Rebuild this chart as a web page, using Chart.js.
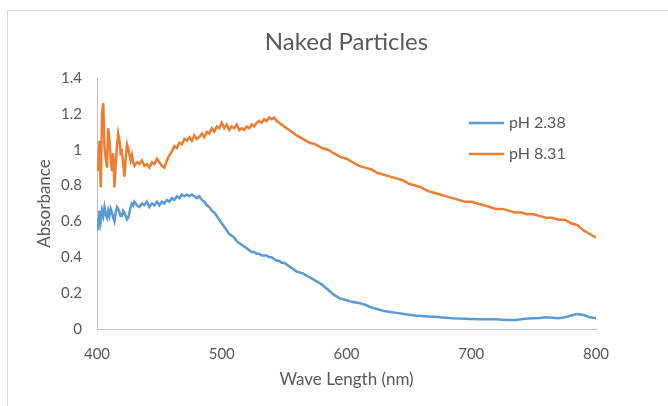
<!DOCTYPE html>
<html>
<head>
<meta charset="utf-8">
<script src="https://cdn.jsdelivr.net/npm/chart.js@4"></script>
<style>
  html, body { margin: 0; padding: 0; background: #fff; overflow: hidden; }
  #wrap { position: relative; width: 668px; height: 406px; }
  #frame { position: absolute; left: 7px; top: 10px; width: 700px; height: 450px; border: 1px solid #d9d9d9; }
  canvas { position: absolute; left: 0; top: 0; }
</style>
</head>
<body>
<div id="wrap">
  <div id="frame"></div>
  <canvas id="chart" width="668" height="406"></canvas>
</div>
<script>
// wavelength in nm: 1 nm through the noisy start, 2 nm to 560, then 5 nm
const wavelength = [
  400, 401, 402, 403, 404, 405, 406, 407, 408, 409, 410, 411, 412, 413, 414, 415,
  416, 417, 418, 419, 420, 421, 422, 423, 424, 425, 426, 427, 428, 429,
  430, 432, 434, 436, 438, 440, 442, 444, 446, 448, 450, 452, 454, 456, 458,
  460, 462, 464, 466, 468, 470, 472, 474, 476, 478, 480, 482, 484, 486, 488,
  490, 492, 494, 496, 498, 500, 502, 504, 506, 508, 510, 512, 514, 516, 518,
  520, 522, 524, 526, 528, 530, 532, 534, 536, 538, 540, 542, 544, 546, 548,
  550, 552, 554, 556, 558, 560,
  565, 570, 575, 580, 585, 590, 595, 600, 605, 610, 615, 620, 625, 630, 635, 640,
  645, 650, 655, 660, 665, 670, 675, 680, 685, 690, 695, 700, 705, 710, 715, 720,
  725, 730, 735, 740, 745, 750, 755, 760, 765, 770, 775, 780, 785, 790, 795, 800
];

const ph238 = [
  0.62, 0.55, 0.66, 0.60, 0.66, 0.63, 0.68, 0.64, 0.62, 0.66, 0.63, 0.67, 0.65, 0.62, 0.60, 0.65,
  0.68, 0.67, 0.65, 0.63, 0.63, 0.66, 0.65, 0.63, 0.61, 0.62, 0.65, 0.68, 0.70, 0.69,
  0.71, 0.69, 0.68, 0.70, 0.69, 0.71, 0.68, 0.70, 0.69, 0.71, 0.69, 0.71, 0.70, 0.72, 0.71,
  0.73, 0.72, 0.74, 0.73, 0.75, 0.74, 0.75, 0.74, 0.75, 0.74, 0.73, 0.74, 0.72, 0.71, 0.69,
  0.68, 0.66, 0.65, 0.63, 0.61, 0.59, 0.57, 0.55, 0.53, 0.52, 0.51, 0.49, 0.48, 0.47, 0.46,
  0.45, 0.44, 0.43, 0.43, 0.42, 0.42, 0.41, 0.41, 0.41, 0.40, 0.40, 0.39, 0.38, 0.38, 0.37,
  0.37, 0.36, 0.35, 0.34, 0.33, 0.32,
  0.31, 0.29, 0.27, 0.25, 0.22, 0.19, 0.17, 0.16, 0.15, 0.145, 0.135, 0.12, 0.11, 0.10, 0.095, 0.09,
  0.085, 0.08, 0.075, 0.072, 0.07, 0.068, 0.065, 0.063, 0.06, 0.058, 0.057, 0.056, 0.055, 0.055, 0.054, 0.054,
  0.052, 0.05, 0.05, 0.055, 0.058, 0.06, 0.062, 0.065, 0.063, 0.06, 0.065, 0.075, 0.083, 0.078, 0.065, 0.06
];

const ph831 = [
  0.95, 0.88, 1.05, 0.79, 1.20, 1.26, 1.02, 0.95, 0.90, 1.12, 1.05, 0.95, 0.88, 0.98, 0.79, 0.92,
  1.02, 1.09, 1.05, 0.98, 0.99, 0.92, 0.85, 0.95, 1.03, 1.01, 0.97, 0.94, 0.97, 0.93,
  0.91, 0.93, 0.92, 0.94, 0.91, 0.92, 0.90, 0.93, 0.92, 0.95, 0.93, 0.91, 0.90, 0.94, 0.97,
  0.99, 1.02, 1.01, 1.04, 1.03, 1.06, 1.05, 1.07, 1.05, 1.08, 1.06, 1.07, 1.09, 1.07, 1.10,
  1.09, 1.12, 1.10, 1.13, 1.12, 1.15, 1.12, 1.14, 1.11, 1.13, 1.12, 1.14, 1.11, 1.12, 1.11,
  1.13, 1.12, 1.14, 1.13, 1.15, 1.16, 1.15, 1.17, 1.16, 1.18, 1.17, 1.18, 1.16, 1.15, 1.14,
  1.13, 1.12, 1.11, 1.10, 1.09, 1.08,
  1.06, 1.04, 1.03, 1.01, 1.00, 0.98, 0.96, 0.95, 0.93, 0.91, 0.90, 0.89, 0.87, 0.86, 0.85, 0.84,
  0.83, 0.81, 0.80, 0.79, 0.77, 0.76, 0.75, 0.74, 0.73, 0.72, 0.71, 0.71, 0.70, 0.69, 0.68, 0.67,
  0.67, 0.66, 0.65, 0.65, 0.64, 0.64, 0.63, 0.62, 0.62, 0.61, 0.61, 0.59, 0.58, 0.55, 0.53, 0.51
];

const seriesNames = ["pH 2.38", "pH 8.31"];
const seriesColors = ["#5b9bd5", "#ed7d31"];
const chartTitle = "Naked Particles";

const textColor = "#595959";
const fontFamily = "Lato, 'Open Sans', sans-serif";

// title centred over the plot area and legend inside it, like the Excel original
const excelBits = {
  id: "excelBits",
  afterDatasetsDraw(chart) {
    const ctx = chart.ctx;
    const area = chart.chartArea;
    ctx.save();
    ctx.fillStyle = textColor;
    ctx.textAlign = "center";
    ctx.textBaseline = "middle";
    ctx.font = "24px " + fontFamily;
    ctx.fillText(chartTitle, (area.left + area.right) / 2, 42);

    const x0 = 469, rows = [123, 154];
    ctx.textAlign = "left";
    ctx.font = "16px " + fontFamily;
    chart.data.datasets.forEach((ds, i) => {
      ctx.strokeStyle = ds.borderColor;
      ctx.lineWidth = 2.5;
      ctx.beginPath();
      ctx.moveTo(x0, rows[i]);
      ctx.lineTo(x0 + 35, rows[i]);
      ctx.stroke();
      ctx.fillText(ds.label, x0 + 40, rows[i]);
    });
    ctx.restore();
  }
};

new Chart(document.getElementById("chart"), {
  type: "line",
  data: {
    datasets: [ph238, ph831].map((vals, i) => ({
      label: seriesNames[i],
      data: wavelength.map((w, j) => ({ x: w, y: vals[j] })),
      borderColor: seriesColors[i],
      backgroundColor: seriesColors[i],
      borderWidth: 2.5,
      pointRadius: 0,
      tension: 0,
      fill: false
    }))
  },
  options: {
    responsive: false,
    animation: false,
    layout: { padding: { left: 30, right: 72, top: 78, bottom: 0 } },
    plugins: {
      legend: { display: false },
      tooltip: { enabled: false },
      title: { display: false }
    },
    scales: {
      x: {
        type: "linear",
        min: 400,
        max: 800,
        afterFit: (s) => { s.height = 77; },
        ticks: { stepSize: 100, color: textColor, padding: 16, font: { family: fontFamily, size: 15 } },
        grid: { display: false, drawTicks: false },
        border: { display: true, color: "#bfbfbf", width: 1 },
        title: {
          display: true,
          text: "Wave Length (nm)",
          color: textColor,
          font: { family: fontFamily, size: 17 },
          padding: { top: 0, bottom: 16 }
        }
      },
      y: {
        min: 0,
        max: 1.4,
        afterFit: (s) => { s.width = 67; },
        ticks: {
          stepSize: 0.2,
          color: textColor,
          padding: 15,
          font: { family: fontFamily, size: 15 },
          callback: (v) => String(Number(v.toFixed(1)))
        },
        grid: { display: false, drawTicks: false },
        border: { display: true, color: "#bfbfbf", width: 1 },
        title: {
          display: true,
          text: "Absorbance",
          color: textColor,
          font: { family: fontFamily, size: 17 },
          padding: { top: 4, bottom: 0 }
        }
      }
    }
  },
  plugins: [excelBits]
});
</script>
</body>
</html>
